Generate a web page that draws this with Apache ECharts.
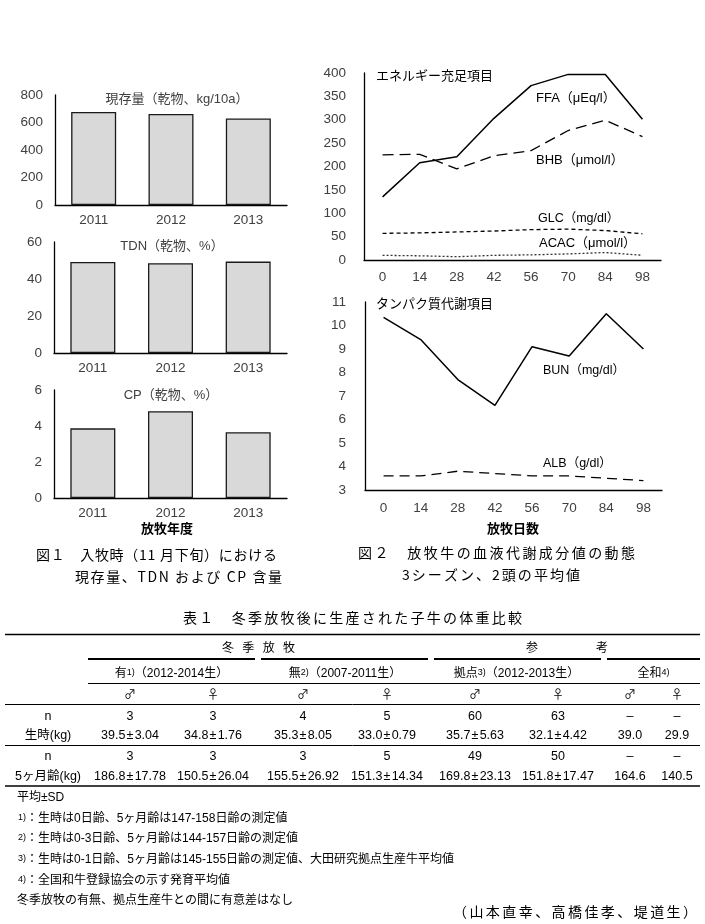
<!DOCTYPE html>
<html><head><meta charset="utf-8">
<script src="https://cdn.jsdelivr.net/npm/echarts@6/dist/echarts.min.js"></script>
<style>html,body{margin:0;padding:0;background:#fff}#c{width:705px;height:924px}</style>
</head><body><div id="c"></div>
<script>
// ---- data ----
const years = ['2011', '2012', '2013'];
const standingCrop = [676, 662, 630];
const tdn = [49.2, 48.5, 49.4];
const cp = [3.87, 4.82, 3.65];

const days = ['0', '14', '28', '42', '56', '70', '84', '98'];
const ffa = [135, 208, 221, 303, 373, 397, 397, 301];
const bhb = [225, 226, 195, 223, 234, 277, 299, 264];
const glc = [57, 58, 60, 62, 65, 66, 63, 56];
const acac = [10, 9, 7, 10, 11, 13, 16, 10];
const bun = [10.35, 9.4, 7.7, 6.6, 9.1, 8.7, 10.5, 9.0];
const alb = [3.6, 3.6, 3.8, 3.7, 3.6, 3.6, 3.5, 3.4];

const sexCols = ['♂', '♀', '♂', '♀', '♂', '♀', '♂', '♀'];
const nBirth = ['3', '3', '4', '5', '60', '63', '–', '–'];
const birthWt = ['39.5±3.04', '34.8±1.76', '35.3±8.05', '33.0±0.79', '35.7±5.63', '32.1±4.42', '39.0', '29.9'];
const n5m = ['3', '3', '3', '5', '49', '50', '–', '–'];
const wt5m = ['186.8±17.78', '150.5±26.04', '155.5±26.92', '151.3±14.34', '169.8±23.13', '151.8±17.47', '164.6', '140.5'];
const groupHeads = [['有', '1)', '（2012-2014生）'], ['無', '2)', '（2007-2011生）'], ['拠点', '3)', '（2012-2013生）'], ['全和', '4)', '']];
const footnotes = [
  ['', '平均±SD'],
  ['1)', '：生時は0日齢、5ヶ月齢は147-158日齢の測定値'],
  ['2)', '：生時は0-3日齢、5ヶ月齢は144-157日齢の測定値'],
  ['3)', '：生時は0-1日齢、5ヶ月齢は145-155日齢の測定値、大田研究拠点生産牛平均値'],
  ['4)', '：全国和牛登録協会の示す発育平均値'],
  ['', '冬季放牧の有無、拠点生産牛との間に有意差はなし']
];

// ---- layout / style ----
const LAT = "'Liberation Sans', Arial, sans-serif";
const JP = "'Noto Sans CJK JP', sans-serif";
const MIX = "'Liberation Sans', 'Noto Sans CJK JP', sans-serif";
const TICK = '#404040';

const mctx = document.createElement('canvas').getContext('2d');

function txt(text, x, y, o) {
  o = o || {};
  const st = {
    text: text, fill: o.color || '#000',
    font: (o.weight || 'normal') + ' ' + (o.size || 12) + 'px ' + (o.family || MIX),
    textAlign: o.align || 'left', textVerticalAlign: 'middle',
    align: o.align || 'left', verticalAlign: 'middle'
  };
  if (o.rich) st.rich = o.rich;
  return { type: 'text', x: x, y: y, silent: true, style: st };
}
function fitText(str, x, y, size, width, o) {
  o = o || {};
  const fam = o.family || JP;
  const font = (o.weight || 'normal') + ' ' + size + 'px ' + fam;
  mctx.font = font;
  const chars = Array.from(str);
  const ws = chars.map(c => mctx.measureText(c).width);
  const total = ws.reduce((a, b) => a + b, 0);
  const sp = chars.length > 1 ? (width - total) / (chars.length - 1) : 0;
  let cx = x; const out = [];
  chars.forEach((c, i) => {
    if (c.trim()) out.push(txt(c, cx, y, { size: size, weight: o.weight, family: fam }));
    cx += ws[i] + sp;
  });
  return out;
}
function hl(x1, x2, y, w) {
  return { type: 'line', silent: true, shape: { x1: x1, y1: y, x2: x2, y2: y }, style: { stroke: '#000', lineWidth: w } };
}

const grids = [
  { left: 55, top: 95, width: 232, height: 110 },
  { left: 54, top: 242, width: 233, height: 111 },
  { left: 54, top: 390, width: 233, height: 108 },
  { left: 364, top: 73, width: 297, height: 187 },
  { left: 365, top: 302, width: 297, height: 188 }
];
function catAxis(gi, data, margin) {
  return {
    type: 'category', gridIndex: gi, data: data, boundaryGap: true,
    axisLine: { show: true, onZero: false, lineStyle: { color: '#000', width: 1.3 } },
    axisTick: { show: false },
    axisLabel: { color: TICK, fontSize: 13.5, fontFamily: LAT, margin: margin }
  };
}
function valAxis(gi, min, max, interval, margin) {
  return {
    type: 'value', gridIndex: gi, min: min, max: max, interval: interval,
    splitLine: { show: false },
    axisLine: { show: true, lineStyle: { color: '#000', width: 1.3 } },
    axisTick: { show: false },
    axisLabel: { color: TICK, fontSize: 13.5, fontFamily: LAT, margin: margin }
  };
}
const barStyle = { color: '#d9d9d9', borderColor: '#1a1a1a', borderWidth: 1.3 };
function barSeries(i, data) {
  return { type: 'bar', xAxisIndex: i, yAxisIndex: i, data: data, barWidth: 45, itemStyle: barStyle, silent: true };
}
function lineSeries(i, data, type, width, color) {
  return {
    type: 'line', xAxisIndex: i, yAxisIndex: i, data: data, symbol: 'none', silent: true,
    lineStyle: { color: color || '#000', width: width, type: type }
  };
}

// ---- graphic texts ----
const g = [];
g.push(txt('現存量（乾物、kg/10a）', 177, 99, { size: 13, align: 'center', color: TICK }));
g.push(txt('TDN（乾物、%）', 172, 246, { size: 13, align: 'center', color: TICK }));
g.push(txt('CP（乾物、%）', 171, 395, { size: 13, align: 'center', color: TICK }));
g.push(txt('放牧年度', 167, 528, { size: 13, align: 'center', family: JP, weight: 'bold' }));
g.push(txt('エネルギー充足項目', 376, 75, { size: 13, family: JP }));
g.push(txt('FFA（μEq/l）', 536, 98, { size: 13 }));
g.push(txt('BHB（μmol/l）', 536, 160, { size: 13 }));
g.push(txt('GLC（mg/dl）', 538, 219, { size: 12.5 }));
g.push(txt('ACAC（μmol/l）', 539, 243, { size: 13 }));
g.push(txt('タンパク質代謝項目', 376, 303, { size: 13, family: JP }));
g.push(txt('BUN（mg/dl）', 543, 371, { size: 12.5 }));
g.push(txt('ALB（g/dl）', 543, 464, { size: 12.5 }));
g.push(txt('放牧日数', 513, 528, { size: 13, align: 'center', family: JP, weight: 'bold' }));
// captions
g.push.apply(g, fitText('図１　入牧時（11 月下旬）における', 36, 555, 14, 241));
g.push.apply(g, fitText('現存量、TDN および CP 含量', 75, 577, 14, 207));
g.push.apply(g, fitText('図２　放牧牛の血液代謝成分値の動態', 358, 553, 14, 277));
g.push.apply(g, fitText('3シーズン、2頭の平均値', 402, 575, 14, 178));
g.push.apply(g, fitText('表１　冬季放牧後に生産された子牛の体重比較', 183, 618, 14, 339));
g.push.apply(g, fitText('（山本直幸、高橋佳孝、堤道生）', 453, 912, 14, 244));

// table
const colX = [130, 213, 303, 387, 475, 558, 630, 677];
g.push(hl(5, 700, 634.5, 1.3));
[[88, 255], [261, 428], [434, 601], [607, 700]].forEach(s => g.push(hl(s[0], s[1], 659, 2.2)));
g.push(hl(88, 700, 683.5, 1));
g.push(hl(5, 700, 704.5, 1));
g.push(hl(5, 700, 745.5, 1));
g.push(hl(5, 700, 786, 1.3));
g.push.apply(g, fitText('冬季放牧', 222, 647, 12, 73));
g.push(txt('参', 532, 647, { size: 12, align: 'center', family: JP }));
g.push(txt('考', 602, 647, { size: 12, align: 'center', family: JP }));
const rich = {
  a: { fontSize: 12, fontFamily: MIX, fill: '#000', color: '#000' },
  n: { fontSize: 12.5, fontFamily: LAT, fill: '#000', color: '#000' },
  pm: { fontSize: 12.5, fontFamily: LAT, fill: '#000', color: '#000', padding: [0, 1.2] },
  s: { fontSize: 9, fontFamily: MIX, verticalAlign: 'top', fill: '#000', color: '#000' }
};
groupHeads.forEach((h, i) => {
  const cx = (colX[2 * i] + colX[2 * i + 1]) / 2;
  const t = '{a|' + h[0] + '}{s|' + h[1] + '}' + (h[2] ? '{a|' + h[2] + '}' : '');
  g.push(txt(t, cx, 674, { size: 12, align: 'center', rich: rich }));
});
sexCols.forEach((s, i) => g.push(txt(s, colX[i], 694, { size: 12, align: 'center', family: JP })));
function valRich(v) {
  const p = v.split('±');
  return p.length > 1 ? '{n|' + p[0] + '}{pm|±}{n|' + p[1] + '}' : '{n|' + v + '}';
}
const rows = [['n', nBirth, 717], ['生時(kg)', birthWt, 736], ['n', n5m, 757], ['5ヶ月齢(kg)', wt5m, 777]];
rows.forEach(r => {
  g.push(txt(r[0], 48, r[2], { size: 12.5, align: 'center' }));
  r[1].forEach((v, i) => g.push(txt(valRich(v), colX[i], r[2], { size: 12.5, align: 'center', rich: rich })));
});
const fnY = [798, 819, 839, 860, 881, 901];
footnotes.forEach((f, i) => {
  const t = (f[0] ? '{s|' + f[0] + '}' : '') + '{a|' + f[1] + '}';
  g.push(txt(t, f[0] ? 18 : 17, fnY[i], { size: 12, rich: rich }));
});

const chart = echarts.init(document.getElementById('c'), null, { renderer: 'canvas' });
chart.setOption({
  animation: false,
  backgroundColor: '#fff',
  grid: grids,
  xAxis: [catAxis(0, years, 8), catAxis(1, years, 8), catAxis(2, years, 8), catAxis(3, days, 10), catAxis(4, days, 11)],
  yAxis: [valAxis(0, 0, 800, 200, 12), valAxis(1, 0, 60, 20, 12), valAxis(2, 0, 6, 2, 12), valAxis(3, 0, 400, 50, 18), valAxis(4, 3, 11, 1, 19)],
  series: [
    barSeries(0, standingCrop), barSeries(1, tdn), barSeries(2, cp),
    lineSeries(3, ffa, 'solid', 1.5),
    lineSeries(3, bhb, [11, 6], 1.3),
    lineSeries(3, glc, [4, 3], 1.3),
    lineSeries(3, acac, [2, 2], 1.3, '#333'),
    lineSeries(4, bun, 'solid', 1.5),
    lineSeries(4, alb, [10, 6], 1.3)
  ],
  graphic: { elements: g }
});
</script></body></html>
